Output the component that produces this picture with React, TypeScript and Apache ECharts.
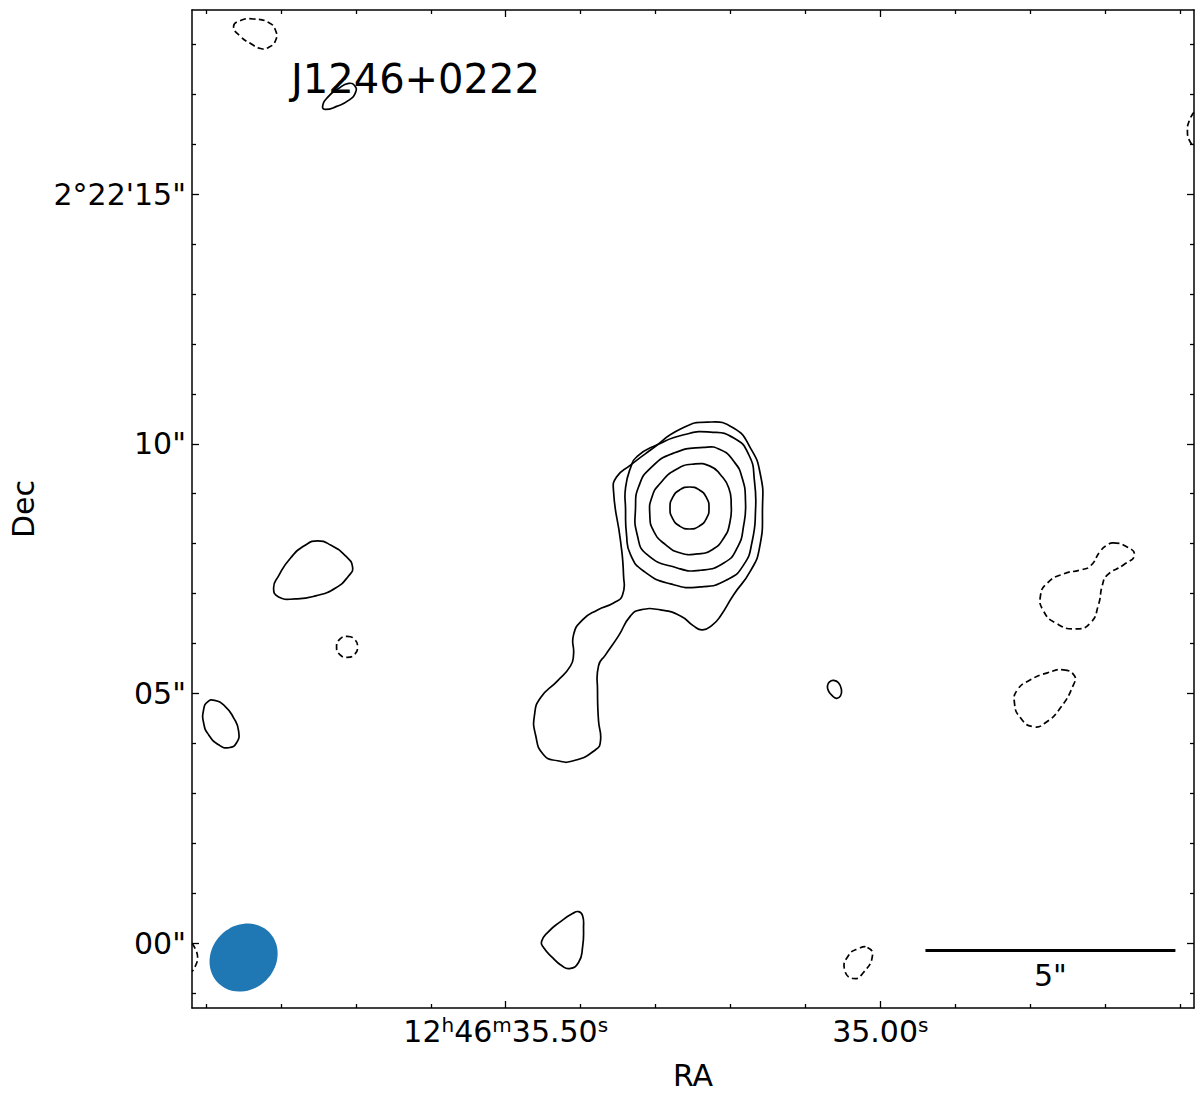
import React, { useEffect, useRef } from "react";
import * as echarts from "echarts";

// ---- field / axes (RA seconds of 12h46m, Dec arcsec from +2°22'00") ----
const SOURCE_NAME = "J1246+0222";
const RA_PEAK_S = 35.254;
const DEC_PEAK_AS = 8.714;
const DEC_DEG = 2.37;
const RA_MIN = 34.5813;
const RA_MAX = 35.9187;
const DEC_MIN = -1.296;
const DEC_MAX = 18.684;
const RA_MAJOR = [35.0, 35.5];
const RA_MINOR = [34.6, 34.7, 34.8, 34.9, 35.1, 35.2, 35.3, 35.4, 35.6, 35.7, 35.8, 35.9];
const DEC_MAJOR = [0, 5, 10, 15];
const DEC_MINOR = [-1, 1, 2, 3, 4, 6, 7, 8, 9, 11, 12, 13, 14, 16, 17, 18];

// ---- contours: [east offset ", north offset "] from the peak ----
const CORE_L5 = [[0.01, 0.42], [-0.185, 0.364], [-0.328, 0.21], [-0.38, 0], [-0.328, -0.21], [-0.185, -0.364], [0.01, -0.42], [0.205, -0.364], [0.348, -0.21], [0.4, 0], [0.348, 0.21], [0.205, 0.364]];
const CORE_L4 = [[-0.076, 0.88], [-0.41, 0.834], [-0.61, 0.666], [-0.776, 0.4], [-0.824, 0.066], [-0.796, -0.3], [-0.676, -0.6], [-0.444, -0.834], [-0.144, -0.92], [0.19, -0.9], [0.49, -0.734], [0.724, -0.466], [0.804, -0.134], [0.756, 0.234], [0.59, 0.5], [0.29, 0.766]];
const CORE_L3 = [[-0.276, 1.214], [-0.61, 1.166], [-0.876, 0.934], [-1.044, 0.6], [-1.11, 0.134], [-1.076, -0.334], [-0.944, -0.8], [-0.676, -1.1], [-0.21, -1.246], [0.256, -1.2], [0.856, -0.934], [1.056, -0.534], [1.09, 0.0], [1.024, 0.434], [0.79, 0.8], [0.324, 1.1]];
const CORE_L2 = [[1.29, 0.4], [1.19, 0.8], [1.056, 1.034], [0.656, 1.266], [0.124, 1.466], [-0.41, 1.52], [-0.876, 1.4], [-1.176, 1.066], [-1.29, 0.534], [-1.31, -0.066], [-1.244, -0.666], [-1.076, -1.134], [-0.744, -1.434], [-0.21, -1.58], [0.39, -1.52], [0.924, -1.266], [1.19, -0.934], [1.27, -0.534], [1.29, 0.0]];
const JET_L1 = [[-0.35, 1.72], [-0.87, 1.6], [-1.21, 1.2], [-1.41, 0.66], [-1.45, 0.0], [-1.39, -0.8], [-1.21, -1.26], [-0.87, -1.74], [-0.61, -2.16], [-0.45, -2.34], [-0.25, -2.44], [-0.07, -2.36], [0.19, -2.16], [0.59, -2.04], [0.99, -2.04], [1.19, -2.16], [1.43, -2.56], [1.69, -2.94], [1.83, -3.16], [1.85, -3.66], [1.83, -4.26], [1.79, -4.66], [1.89, -4.84], [2.33, -5.06], [2.65, -5.06], [2.93, -4.94], [3.09, -4.54], [3.11, -4.14], [2.99, -3.8], [2.65, -3.46], [2.39, -3.16], [2.33, -2.94], [2.33, -2.54], [2.15, -2.24], [1.85, -2.04], [1.53, -1.9], [1.35, -1.74], [1.33, -1.34], [1.39, -0.66], [1.53, 0.34], [1.47, 0.62], [1.19, 0.86], [0.79, 1.16], [0.19, 1.58]];
const POS_TOPLEFT = [[7.35, 8.04], [7.25, 8.22], [7.03, 8.4], [6.83, 8.5], [6.71, 8.46], [6.69, 8.32], [6.83, 8.16], [7.07, 8.04], [7.29, 7.98]];
const POS_WEST_EGG = [[8.33, -1.6], [8.23, -1.36], [7.99, -1.0], [7.69, -0.74], [7.45, -0.66], [7.19, -0.74], [6.89, -0.96], [6.75, -1.18], [6.83, -1.36], [7.09, -1.6], [7.49, -1.76], [7.89, -1.82], [8.23, -1.78]];
const POS_WEST_SMALL = [[9.73, -4.04], [9.65, -3.88], [9.51, -3.85], [9.31, -3.96], [9.13, -4.2], [9.03, -4.46], [9.07, -4.7], [9.23, -4.8], [9.43, -4.74], [9.63, -4.54], [9.73, -4.3]];
const POS_KNOT = [[-2.75, -3.56], [-2.79, -3.48], [-2.87, -3.45], [-2.97, -3.5], [-3.03, -3.64], [-3.01, -3.76], [-2.93, -3.81], [-2.83, -3.74], [-2.77, -3.66]];
const POS_SOUTH = [[2.97, -8.68], [2.83, -8.48], [2.59, -8.28], [2.35, -8.12], [2.23, -8.08], [2.15, -8.16], [2.13, -8.4], [2.15, -8.8], [2.23, -9.1], [2.41, -9.22], [2.57, -9.16], [2.75, -9.0], [2.93, -8.8]];
const NEG_TOPLEFT = [[9.13, 9.64], [8.99, 9.76], [8.73, 9.79], [8.43, 9.72], [8.29, 9.56], [8.29, 9.36], [8.43, 9.22], [8.59, 9.2], [8.79, 9.3], [8.99, 9.44]];
const NEG_RING = [[6.86, -2.57], [6.71, -2.63], [6.65, -2.78], [6.71, -2.93], [6.86, -2.99], [7.01, -2.93], [7.07, -2.78], [7.01, -2.63]];
const NEG_EAST_PEAR = [[-8.47, -0.7], [-8.71, -0.76], [-8.89, -0.94], [-8.67, -1.14], [-8.35, -1.34], [-8.25, -1.54], [-8.17, -1.94], [-8.01, -2.3], [-7.71, -2.42], [-7.31, -2.3], [-7.07, -2.06], [-7.01, -1.76], [-7.15, -1.5], [-7.47, -1.32], [-7.81, -1.24], [-8.01, -1.16], [-8.21, -0.86], [-8.35, -0.74]];
const NEG_EAST_DROP = [[-7.47, -3.24], [-7.69, -3.36], [-7.67, -3.54], [-7.41, -4.0], [-7.11, -4.3], [-6.87, -4.38], [-6.61, -4.2], [-6.49, -3.9], [-6.55, -3.64], [-6.81, -3.44], [-7.15, -3.3]];
const NEG_SOUTH = [[-3.55, -8.8], [-3.65, -8.96], [-3.47, -9.3], [-3.27, -9.42], [-3.09, -9.24], [-3.17, -8.96], [-3.37, -8.82]];
const NEG_EDGE_NE = [[-10.08, 7.92], [-9.99, 7.76], [-9.95, 7.56], [-9.99, 7.36], [-10.08, 7.24]];
const NEG_EDGE_SW = [[9.96, -8.72], [9.89, -8.84], [9.85, -9.0], [9.89, -9.16], [9.96, -9.28]];

// ---- restoring beam & scale bar ----
const BEAM_CENTER = [8.93, -9.0];
const BEAM_MAJ = 1.44;
const BEAM_MIN = 1.28;
const BEAM_PA = -45;
const SCALEBAR_RIGHT = [-9.71, -8.86];
const SCALEBAR_LEN = 5;
const SCALEBAR_LABEL = '5"';

const FONT = "DejaVu Sans";
const BLACK = "#000000";
const BEAM_COLOR = "#1f77b4";
const TICK_FONT = 30;

const RA_PER_ARCSEC = 1 / (15 * Math.cos((DEC_DEG * Math.PI) / 180));
const toData = (p: number[]) => [RA_PEAK_S + p[0] * RA_PER_ARCSEC, DEC_PEAK_AS + p[1]];

type Contour = { pts: number[][]; closed: boolean };
const SOLID: Contour[] = [CORE_L5, CORE_L4, CORE_L3, CORE_L2, JET_L1, POS_TOPLEFT, POS_WEST_EGG, POS_WEST_SMALL, POS_KNOT, POS_SOUTH].map((pts) => ({ pts, closed: true }));
const DASHED: Contour[] = [
  ...[NEG_TOPLEFT, NEG_RING, NEG_EAST_PEAR, NEG_EAST_DROP, NEG_SOUTH].map((pts) => ({ pts, closed: true })),
  ...[NEG_EDGE_NE, NEG_EDGE_SW].map((pts) => ({ pts, closed: false })),
];

function contourSeries(items: Contour[], dashed: boolean) {
  return {
    type: "custom",
    coordinateSystem: "cartesian2d",
    xAxisIndex: 0,
    yAxisIndex: 0,
    silent: true,
    data: items.map((c, i) => {
      const p = toData(c.pts[0]);
      return [p[0], p[1], i];
    }),
    renderItem: (_params: any, api: any) => {
      const c = items[api.value(2)];
      const points = c.pts.map((p) => api.coord(toData(p)));
      return {
        type: c.closed ? "polygon" : "polyline",
        shape: { points, smooth: 0.55 },
        style: {
          fill: "none",
          stroke: BLACK,
          lineWidth: 1.7,
          lineDash: dashed ? [6, 3.5] : null,
        },
      };
    },
  };
}

function beamOutline() {
  const a = BEAM_MAJ / 2;
  const b = BEAM_MIN / 2;
  const pa = (BEAM_PA * Math.PI) / 180;
  const out: number[][] = [];
  for (let k = 0; k < 72; k++) {
    const t = (k / 72) * 2 * Math.PI;
    const u = a * Math.cos(t);
    const v = b * Math.sin(t);
    const east = u * Math.sin(pa) + v * Math.cos(pa);
    const north = u * Math.cos(pa) - v * Math.sin(pa);
    out.push([BEAM_CENTER[0] + east, BEAM_CENTER[1] + north]);
  }
  return out;
}

const raLabel = (v: number) => {
  const s = v.toFixed(2);
  if (Math.abs(v - Math.max(...RA_MAJOR)) < 1e-6) return `12{s|h}46{s|m}${s}{s|s}`;
  return `${s}{s|s}`;
};
const decLabel = (v: number) => {
  const r = Math.round(v);
  if (r === Math.max(...DEC_MAJOR)) return `2°22'${r}"`;
  return `${String(r).padStart(2, "0")}"`;
};

const lineStyle = { color: BLACK, width: 1.5 };

function xAxisDef(position: string, major: boolean, withLabels: boolean, withLine: boolean) {
  return {
    type: "value",
    position,
    min: RA_MIN,
    max: RA_MAX,
    inverse: true,
    axisLine: { show: withLine, onZero: false, lineStyle },
    axisTick: { show: true, inside: true, length: major ? 7 : 4, lineStyle: { color: BLACK, width: 1.3 }, customValues: major ? RA_MAJOR : RA_MINOR },
    axisLabel: withLabels
      ? {
          show: true,
          customValues: RA_MAJOR,
          formatter: raLabel,
          color: BLACK,
          fontSize: TICK_FONT,
          fontFamily: FONT,
          margin: 7,
          lineHeight: 32,
          rich: { s: { fontSize: 20, fontFamily: FONT, color: BLACK, verticalAlign: "top", lineHeight: 18 } },
        }
      : { show: false },
    splitLine: { show: false },
    ...(withLabels
      ? { name: "RA", nameLocation: "middle", nameGap: 52, nameTextStyle: { fontSize: TICK_FONT, fontFamily: FONT, color: BLACK } }
      : {}),
  };
}

function yAxisDef(position: string, major: boolean, withLabels: boolean, withLine: boolean) {
  return {
    type: "value",
    position,
    min: DEC_MIN,
    max: DEC_MAX,
    axisLine: { show: withLine, onZero: false, lineStyle },
    axisTick: { show: true, inside: true, length: major ? 7 : 4, lineStyle: { color: BLACK, width: 1.3 }, customValues: major ? DEC_MAJOR : DEC_MINOR },
    axisLabel: withLabels
      ? { show: true, customValues: DEC_MAJOR, formatter: decLabel, color: BLACK, fontSize: TICK_FONT, fontFamily: FONT, margin: 6 }
      : { show: false },
    splitLine: { show: false },
    ...(withLabels
      ? { name: "Dec", nameLocation: "middle", nameGap: 154, nameTextStyle: { fontSize: TICK_FONT, fontFamily: FONT, color: BLACK } }
      : {}),
  };
}

export default function App() {
  const ref = useRef<HTMLDivElement>(null);
  useEffect(() => {
    if (!ref.current) return;
    const chart = echarts.init(ref.current, undefined, { renderer: "svg" });
    const sbL = toData([SCALEBAR_RIGHT[0] + SCALEBAR_LEN, SCALEBAR_RIGHT[1]]);
    const sbR = toData(SCALEBAR_RIGHT);
    const sbLabel = toData([SCALEBAR_RIGHT[0] + SCALEBAR_LEN / 2, SCALEBAR_RIGHT[1] - 0.5]);
    const beamPts = beamOutline();
    chart.setOption({
      animation: false,
      backgroundColor: "#ffffff",
      textStyle: { fontFamily: FONT },
      grid: { left: 191, top: 10, width: 1003, height: 1002, containLabel: false },
      xAxis: [
        xAxisDef("bottom", true, true, true),
        xAxisDef("bottom", false, false, false),
        xAxisDef("top", true, false, true),
        xAxisDef("top", false, false, false),
      ],
      yAxis: [
        yAxisDef("left", true, true, true),
        yAxisDef("left", false, false, false),
        yAxisDef("right", true, false, true),
        yAxisDef("right", false, false, false),
      ],
      graphic: [
        {
          type: "text",
          x: 291,
          y: 79,
          style: { text: SOURCE_NAME, font: `40px '${FONT}'`, fill: BLACK, verticalAlign: "middle", align: "left" },
        },
      ],
      series: [
        {
          type: "custom",
          coordinateSystem: "cartesian2d",
          silent: true,
          data: [[...toData(BEAM_CENTER)]],
          renderItem: (_p: any, api: any) => ({
            type: "polygon",
            shape: { points: beamPts.map((p) => api.coord(toData(p))) },
            style: { fill: BEAM_COLOR, stroke: "none" },
          }),
          z: 1,
        },
        contourSeries(SOLID, false),
        contourSeries(DASHED, true),
        {
          type: "line",
          silent: true,
          data: [sbL, sbR],
          symbol: "none",
          lineStyle: { color: BLACK, width: 3 },
        },
        {
          type: "custom",
          coordinateSystem: "cartesian2d",
          silent: true,
          data: [sbLabel],
          renderItem: (_p: any, api: any) => {
            const c = api.coord([api.value(0), api.value(1)]);
            return {
              type: "text",
              x: c[0],
              y: c[1],
              style: { text: SCALEBAR_LABEL, fill: BLACK, font: `${TICK_FONT}px '${FONT}'`, align: "center", verticalAlign: "middle" },
            };
          },
        },
      ],
    });
    return () => chart.dispose();
  }, []);
  return <div ref={ref} style={{ position: "absolute", left: 0, top: 0, width: 1200, height: 1095 }} />;
}
